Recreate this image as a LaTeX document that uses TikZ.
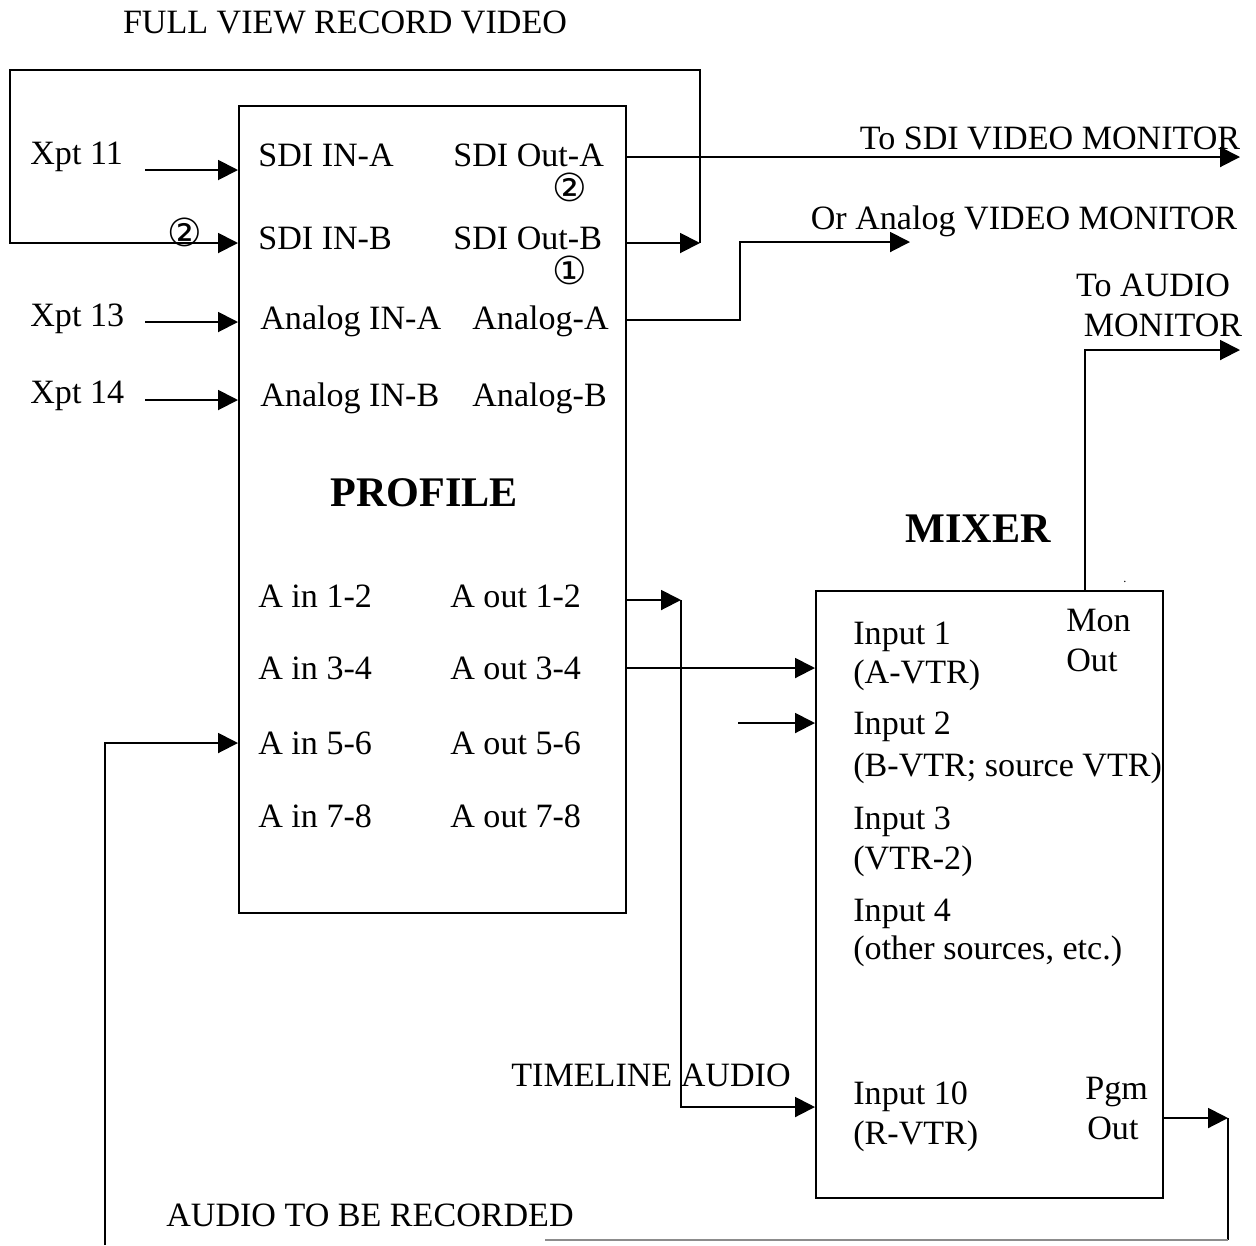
\documentclass[tikz,border=0pt]{standalone}
\usepackage{fontspec}
\setmainfont{Liberation Serif}
\newfontfamily\circfont{DejaVu Sans}
\usetikzlibrary{arrows.meta,positioning}

\begin{document}
\begin{tikzpicture}[x=0.02cm,y=-0.02cm,
  lbl/.style={inner sep=0pt,anchor=base,font=\fontsize{19.4}{22}\selectfont},
  inlbl/.style={lbl,anchor=base west},
  title/.style={inner sep=0pt,anchor=base,font=\fontsize{24}{28}\selectfont\bfseries},
  num/.style={inner sep=0pt,font=\fontsize{22}{24}\circfont},
  unit/.style={draw,line width=1.1pt,inner sep=0pt,anchor=north west},
  wire/.style={line width=1.1pt},
  arrow/.style={wire,-{Triangle[length=0.4cm,width=0.4cm]}}
]
\useasboundingbox (0,0) rectangle (1256,1245);

% ---- the two units ----
\node[unit,minimum width=7.74cm,minimum height=16.14cm] (profile) at (238,105) {};
\node[unit,minimum width=6.94cm,minimum height=12.14cm] (mixer) at (815,590) {};
\node[title] (proftitle) at (424,506) {PROFILE};
\node[title] (mixtitle) at (978,542) {MIXER};
\node[lbl,font=\scriptsize] (speck) at (1125,582) {.};

% ---- profile ports ----
\node[inlbl] (sdiina)  at (258,166) {SDI IN-A};
\node[inlbl] (sdiinb)  at (258,249) {SDI IN-B};
\node[inlbl] (anaina)  at (260,329) {Analog IN-A};
\node[inlbl] (anainb)  at (260,406) {Analog IN-B};
\node[inlbl] (sdiouta) at (453,166) {SDI Out-A};
\node[inlbl] (sdioutb) at (453,249) {SDI Out-B};
\node[inlbl] (anaouta) at (472,329) {Analog-A};
\node[inlbl] (anaoutb) at (472,406) {Analog-B};
\foreach \n/\t/\y in {a/1-2/607,b/3-4/679,c/5-6/754,d/7-8/827}{
  \node[inlbl] (ain\n)  at (258,\y) {A in \t};
  \node[inlbl] (aout\n) at (450,\y) {A out \t};
}
\node[num] (two1) at (185,232) {②};
\node[num] (two2) at (570,187) {②};
\node[num] (one1) at (570,270) {①};

% ---- mixer ports ----
\node[inlbl] (in1)  at (853,644)  {Input 1};
\node[inlbl] (in1b) at (853,683)  {(A-VTR)};
\node[inlbl] (in2)  at (853,734)  {Input 2};
\node[inlbl] (in2b) at (853,776)  {(B-VTR; source VTR)};
\node[inlbl] (in3)  at (853,829)  {Input 3};
\node[inlbl] (in3b) at (853,869)  {(VTR-2)};
\node[inlbl] (in4)  at (853,921)  {Input 4};
\node[inlbl] (in4b) at (853,959)  {(other sources, etc.)};
\node[inlbl] (in10)  at (853,1104) {Input 10};
\node[inlbl] (in10b) at (853,1144) {(R-VTR)};
\node[inlbl] (mon)  at (1066,631)  {Mon};
\node[inlbl] (monb) at (1066,671)  {Out};
\node[inlbl] (pgm)  at (1085,1099) {Pgm};
\node[inlbl] (pgmb) at (1087,1139) {Out};

% ---- outside labels ----
\node[lbl] (fullview) at (345,33)  {FULL VIEW RECORD VIDEO};
\node[inlbl] (x11) at (30,164) {Xpt 11};
\node[inlbl] (x13) at (30,326) {Xpt 13};
\node[inlbl] (x14) at (30,403) {Xpt 14};
\node[lbl] (sdimonlbl) at (1050,149) {To SDI VIDEO MONITOR};
\node[lbl] (anamonlbl) at (1024,229) {Or Analog VIDEO MONITOR};
\node[lbl] (audlbl)  at (1153,296) {To AUDIO};
\node[lbl] (audlblb) at (1163,336) {MONITOR};
\node[lbl] (tllbl)  at (651,1086) {TIMELINE AUDIO};
\node[lbl] (reclbl) at (370,1226) {AUDIO TO BE RECORDED};

% ---- wire end points ----
\coordinate (x11o) at (145,170);
\coordinate (x13o) at (145,322);
\coordinate (x14o) at (145,400);
\coordinate (loopr) at (700,243);
\coordinate (loopt) at (10,70);
\coordinate (sdimon) at (1240,157);
\coordinate (anamon) at (910,242);
\coordinate (audmon) at (1240,350);
\coordinate (tl) at (681,600);
\coordinate (in2o) at (738,723);
\coordinate (reco) at (105,1245);
\coordinate (pgmo) at (1228,1118);

% ---- profile wiring ----
\draw[arrow] (x11o) -- (x11o -| profile.west);
\draw[arrow] (x13o) -- (x13o -| profile.west);
\draw[arrow] (x14o) -- (x14o -| profile.west);
\draw[arrow] (loopr -| profile.east) -- (loopr);
\draw[arrow] (loopr) |- (loopt) |- (loopr -| profile.west);
\draw[arrow] (sdimon -| profile.east) -- (sdimon);
\draw[arrow] (profile.east |- 0,320) -- ++(113,0) |- (anamon);
\draw[arrow] (reco) |- (profile.west |- 0,743);

% ---- audio to mixer ----
\draw[arrow] (tl -| profile.east) -- (tl);
\draw[arrow] (tl) |- (mixer.west |- 0,1107);
\draw[arrow] (profile.east |- 0,668) -- (mixer.west |- 0,668);
\draw[arrow] (in2o) -- (in2o -| mixer.west);
\draw[arrow] (mixer.north -| 1085,0) |- (audmon);
\draw[arrow] (pgmo -| mixer.east) -- (pgmo);
\draw[wire] (pgmo) -- ++(0,122) coordinate (pgml);
\draw[wire,black!45] (pgml) -- ++(-683,0);
\end{tikzpicture}
\end{document}
